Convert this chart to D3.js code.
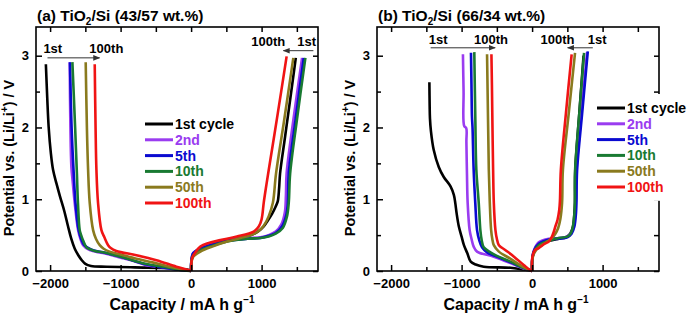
<!DOCTYPE html>
<html>
<head>
<meta charset="utf-8">
<script src="https://cdn.jsdelivr.net/npm/d3@7"></script>
<style>
  body { margin: 0; background: #fff; }
  text { font-family: "Liberation Sans", Arial, sans-serif; font-weight: bold; }
</style>
</head>
<body>
<div id="chart"></div>
<script>
// cycle names + colours
var cycles = ["1st cycle", "2nd", "5th", "10th", "50th", "100th"];
var colors = ["#000000", "#9a3cf0", "#0a0ad0", "#197a32", "#8a7a1e", "#f01414"];

// axis ticks
var xMajor = [-2000, -1000, 0, 1000];
var xMinor = [-1500, -500, 500, 1500];
var yMajor = [0, 1, 2, 3];
var yMinor = [0.5, 1.5, 2.5];

// (a) TiO2/Si 43/57 : discharge [capacity, V]
var a_dis_1 = [[0,0],[-60,0.02],[-300,0.04],[-800,0.05],[-1200,0.06],[-1420,0.07],[-1500,0.1],[-1550,0.15],[-1600,0.22],[-1650,0.31],[-1700,0.45],[-1745,0.62],[-1800,0.84],[-1860,1.04],[-1910,1.22],[-1958,1.41],[-1990,1.65],[-2020,2.0],[-2040,2.4],[-2060,2.88]];
var a_dis_2 = [[0,0],[-113,0.01],[-400,0.05],[-634,0.08],[-850,0.15],[-1013,0.19],[-1250,0.25],[-1438,0.29],[-1532,0.36],[-1570,0.45],[-1603,0.57],[-1651,0.95],[-1680,1.25],[-1698,1.45],[-1712,2.0],[-1722,2.91]];
var a_dis_5 = [[0,0],[-110,0.01],[-400,0.05],[-630,0.09],[-1000,0.2],[-1250,0.26],[-1420,0.3],[-1515,0.36],[-1560,0.45],[-1595,0.57],[-1640,0.95],[-1665,1.36],[-1695,2.0],[-1718,2.91]];
var a_dis_10 = [[0,0],[-110,0.01],[-400,0.06],[-650,0.1],[-1000,0.2],[-1250,0.26],[-1367,0.28],[-1450,0.31],[-1485,0.33],[-1530,0.42],[-1560,0.5],[-1580,0.57],[-1605,0.95],[-1620,1.36],[-1645,2.0],[-1684,2.91]];
var a_dis_50 = [[0,0],[-100,0.02],[-308,0.06],[-550,0.12],[-776,0.17],[-1000,0.23],[-1155,0.27],[-1240,0.31],[-1296,0.36],[-1350,0.45],[-1390,0.57],[-1438,0.95],[-1461,1.41],[-1478,2.0],[-1495,2.91]];
var a_dis_100 = [[0,0],[-24,0.01],[-209,0.06],[-492,0.15],[-776,0.22],[-1060,0.28],[-1140,0.32],[-1177,0.36],[-1230,0.47],[-1272,0.57],[-1320,0.95],[-1343,1.41],[-1355,2.0],[-1367,2.88]];
// (a) charge
var a_ch_1 = [[0,0],[5,0.12],[20,0.2],[100,0.28],[250,0.36],[450,0.42],[700,0.46],[850,0.5],[950,0.55],[1030,0.62],[1086,0.7],[1150,0.8],[1200,0.9],[1229,0.97],[1248,1.15],[1262,1.36],[1330,1.85],[1400,2.35],[1485,2.97]];
var a_ch_2 = [[0,0],[5,0.15],[30,0.25],[132,0.32],[300,0.38],[510,0.43],[800,0.46],[983,0.47],[1100,0.5],[1200,0.55],[1280,0.65],[1330,0.82],[1345,1.05],[1355,1.36],[1450,2.1],[1574,2.97]];
var a_ch_5 = [[0,0],[5,0.15],[30,0.25],[132,0.31],[300,0.37],[510,0.42],[800,0.45],[983,0.46],[1100,0.49],[1200,0.53],[1290,0.62],[1350,0.78],[1372,0.95],[1385,1.36],[1480,2.1],[1598,2.97]];
var a_ch_10 = [[0,0],[5,0.14],[30,0.22],[132,0.29],[300,0.35],[510,0.41],[800,0.45],[983,0.46],[1100,0.48],[1200,0.52],[1300,0.6],[1360,0.76],[1385,0.95],[1405,1.36],[1500,2.1],[1621,2.97]];
var a_ch_50 = [[0,0],[5,0.12],[30,0.2],[132,0.27],[300,0.34],[510,0.41],[700,0.46],[850,0.5],[950,0.55],[1030,0.63],[1100,0.76],[1160,0.95],[1205,1.36],[1320,2.1],[1450,2.97]];
var a_ch_100 = [[0,0],[14,0.18],[60,0.26],[131,0.34],[250,0.39],[415,0.43],[650,0.48],[888,0.55],[960,0.62],[1000,0.72],[1030,0.95],[1060,1.15],[1100,1.4],[1230,2.2],[1355,2.99]];

// (b) TiO2/Si 66/34 : discharge
var b_dis_1 = [[0,0],[-24,0.01],[-114,0.02],[-306,0.045],[-686,0.06],[-800,0.09],[-871,0.13],[-920,0.25],[-967,0.36],[-1000,0.48],[-1039,0.62],[-1070,0.8],[-1090,0.95],[-1110,1.06],[-1157,1.18],[-1253,1.31],[-1324,1.45],[-1396,1.69],[-1435,1.95],[-1449,2.13],[-1453,2.3],[-1457,2.63]];
var b_dis_2 = [[0,0],[-114,0.03],[-306,0.11],[-543,0.2],[-781,0.27],[-829,0.34],[-860,0.45],[-886,0.57],[-914,0.95],[-924,1.36],[-932,1.8],[-934,1.99],[-963,2.02],[-972,2.5],[-981,3.02]];
var b_dis_5 = [[0,0],[-114,0.04],[-306,0.12],[-500,0.2],[-639,0.26],[-710,0.33],[-750,0.43],[-781,0.57],[-806,0.95],[-829,1.41],[-845,2.0],[-853,2.15],[-860,2.6],[-867,3.04]];
var b_dis_10 = [[0,0],[-114,0.04],[-306,0.13],[-500,0.21],[-591,0.26],[-686,0.33],[-715,0.43],[-734,0.57],[-757,0.95],[-791,1.41],[-805,2.1],[-820,3.05]];
var b_dis_50 = [[0,0],[-114,0.05],[-306,0.17],[-471,0.27],[-543,0.36],[-565,0.45],[-581,0.57],[-600,0.95],[-614,1.41],[-625,2.1],[-639,3.02]];
var b_dis_100 = [[0,0],[-24,0.01],[-114,0.08],[-257,0.2],[-377,0.29],[-471,0.36],[-500,0.45],[-520,0.57],[-543,0.95],[-553,1.41],[-562,2.0],[-570,2.6],[-577,3.02]];
// (b) charge
var b_ch_1 = [[0,0],[5,0.18],[40,0.3],[120,0.38],[240,0.42],[380,0.45],[480,0.47],[540,0.52],[580,0.62],[600,0.8],[608,0.95],[612,1.4],[670,2.2],[730,3.0]];
var b_ch_2 = [[0,0],[5,0.2],[30,0.3],[94,0.4],[237,0.45],[380,0.46],[490,0.48],[560,0.54],[595,0.64],[615,0.85],[622,1.0],[630,1.4],[700,2.2],[780,3.05]];
var b_ch_5 = [[0,0],[5,0.19],[30,0.29],[94,0.38],[237,0.44],[380,0.45],[500,0.47],[560,0.52],[600,0.62],[622,0.8],[629,0.95],[638,1.4],[710,2.2],[790,3.06]];
var b_ch_10 = [[0,0],[5,0.18],[30,0.27],[94,0.36],[237,0.42],[380,0.46],[500,0.48],[545,0.52],[575,0.6],[600,0.8],[607,0.95],[610,1.4],[670,2.2],[737,3.04]];
var b_ch_50 = [[0,0],[5,0.17],[30,0.25],[94,0.33],[200,0.4],[280,0.46],[330,0.52],[370,0.6],[400,0.72],[425,0.95],[437,1.41],[520,2.2],[609,3.04]];
var b_ch_100 = [[0,0],[3,0.19],[40,0.29],[94,0.32],[180,0.38],[237,0.41],[290,0.5],[330,0.62],[360,0.71],[385,0.85],[395,0.98],[408,1.41],[480,2.2],[561,3.02]];

// annotations: label positions and arrow ends, data units
var a_annLeft = { from: '1st', to: '100th', t1: [-2095, 3.04], t2: [-1443, 3.04], arrow: [[-2037, 2.97], [-1299, 2.97]] };
var a_annRight = { from: '1st', to: '100th', t1: [1506, 3.13], t2: [853, 3.13], arrow: [[1735, 3.07], [1309, 3.07]] };
var b_annLeft = { from: '1st', to: '100th', t1: [-1467, 3.17], t2: [-824, 3.17], arrow: [[-1439, 3.11], [-524, 3.11]] };
var b_annRight = { from: '1st', to: '100th', t1: [790, 3.17], t2: [119, 3.17], arrow: [[861, 3.11], [504, 3.11]] };

var W = 688, H = 314;
var svg = d3.select('#chart').append('svg')
    .attr('width', W)
    .attr('height', H);

svg.append('rect').attr('width', W).attr('height', H).attr('fill', '#fff');

var defs = svg.append('defs');
defs.append('marker')
    .attr('id', 'arr')
    .attr('viewBox', '0 0 10 10')
    .attr('refX', 9).attr('refY', 5)
    .attr('markerWidth', 7).attr('markerHeight', 7)
    .attr('orient', 'auto')
    .append('path')
    .attr('d', 'M0,1 L10,5 L0,9 Z')
    .attr('fill', '#333');

drawPanel({
    left: 36, right: 318, top: 27, bottom: 271,
    title: ['(a) TiO', '2', '/Si (43/57 wt.%)'],
    dis: [a_dis_1, a_dis_2, a_dis_5, a_dis_10, a_dis_50, a_dis_100],
    ch: [a_ch_1, a_ch_2, a_ch_5, a_ch_10, a_ch_50, a_ch_100],
    ann: [a_annLeft, a_annRight],
    legX: 145, legY: 124, legBox: false,
    ylabX: 8.5, xlabX: 182
});

drawPanel({
    left: 377, right: 659, top: 27, bottom: 271,
    title: ['(b) TiO', '2', '/Si (66/34 wt.%)'],
    dis: [b_dis_1, b_dis_2, b_dis_5, b_dis_10, b_dis_50, b_dis_100],
    ch: [b_ch_1, b_ch_2, b_ch_5, b_ch_10, b_ch_50, b_ch_100],
    ann: [b_annLeft, b_annRight],
    legX: 597, legY: 108, legBox: true,
    ylabX: 350, xlabX: 516
});

function drawPanel(p) {
    var x = d3.scaleLinear().domain([-2200, 1800]).range([p.left, p.right]);
    var y = d3.scaleLinear().domain([0, 3.4]).range([p.bottom, p.top]);
    var g = svg.append('g');

    var line = d3.line()
        .x(function (d) { return x(d[0]); })
        .y(function (d) { return y(d[1]); })
        .curve(d3.curveCatmullRom.alpha(0.5));

    // curves, 1st first so 100th sits on top
    cycles.forEach(function (c, i) {
        [p.dis[i], p.ch[i]].forEach(function (arr) {
            g.append('path')
                .datum(arr)
                .attr('d', line)
                .attr('fill', 'none')
                .attr('stroke', colors[i])
                .attr('stroke-width', 2.6)
                .attr('stroke-linejoin', 'round');
        });
    });

    // axes, ticks pointing in
    function styleAxis(sel) {
        sel.selectAll('.domain').remove();
        sel.selectAll('line').attr('stroke', '#000').attr('stroke-width', 1.5);
        sel.selectAll('text').style('font-size', '13px').attr('fill', '#000');
    }
    g.append('g').attr('transform', 'translate(0,' + p.bottom + ')')
        .call(d3.axisBottom(x).tickValues(xMajor).tickSizeInner(-6).tickSizeOuter(0).tickPadding(8).tickFormat(d3.format('d')))
        .call(styleAxis);
    g.append('g').attr('transform', 'translate(0,' + p.bottom + ')')
        .call(d3.axisBottom(x).tickValues(xMinor).tickSizeInner(-4).tickSizeOuter(0).tickFormat(''))
        .call(styleAxis);
    g.append('g').attr('transform', 'translate(0,' + p.top + ')')
        .call(d3.axisTop(x).tickValues(xMajor.concat(xMinor)).tickSizeInner(-5).tickSizeOuter(0).tickFormat(''))
        .call(styleAxis);
    g.append('g').attr('transform', 'translate(' + p.left + ',0)')
        .call(d3.axisLeft(y).tickValues(yMajor).tickSizeInner(-6).tickSizeOuter(0).tickPadding(7).tickFormat(d3.format('d')))
        .call(styleAxis);
    g.append('g').attr('transform', 'translate(' + p.left + ',0)')
        .call(d3.axisLeft(y).tickValues(yMinor).tickSizeInner(-4).tickSizeOuter(0).tickFormat(''))
        .call(styleAxis);
    g.append('g').attr('transform', 'translate(' + p.right + ',0)')
        .call(d3.axisRight(y).tickValues(yMajor.concat(yMinor)).tickSizeInner(-5).tickSizeOuter(0).tickFormat(''))
        .call(styleAxis);

    // frame
    g.append('rect')
        .attr('x', p.left).attr('y', p.top)
        .attr('width', p.right - p.left).attr('height', p.bottom - p.top)
        .attr('fill', 'none').attr('stroke', '#000').attr('stroke-width', 1.6);

    // title
    var t = g.append('text').attr('x', p.left + 1).attr('y', 21).style('font-size', '15.5px');
    t.append('tspan').text(p.title[0]);
    t.append('tspan').text(p.title[1]).attr('dy', 4).style('font-size', '10px');
    t.append('tspan').text(p.title[2]).attr('dy', -4);

    // axis labels
    var xl = g.append('text')
        .attr('x', p.xlabX).attr('y', 310)
        .attr('text-anchor', 'middle').style('font-size', '16px');
    xl.append('tspan').text('Capacity / mA h g');
    xl.append('tspan').text('\u22121').attr('dy', -7).style('font-size', '10px');

    var yl = g.append('text')
        .attr('transform', 'translate(' + p.ylabX + ',158) rotate(-90)')
        .attr('dy', '0.35em')
        .attr('text-anchor', 'middle').style('font-size', '14.5px');
    yl.append('tspan').text('Potential vs. (Li/Li');
    yl.append('tspan').text('+').attr('dy', -6).style('font-size', '10px');
    yl.append('tspan').text(') / V').attr('dy', 6);

    // annotations
    p.ann.forEach(function (a) {
        g.append('text').attr('x', x(a.t1[0])).attr('y', y(a.t1[1])).style('font-size', '13px').text(a.from);
        g.append('text').attr('x', x(a.t2[0])).attr('y', y(a.t2[1])).style('font-size', '13px').text(a.to);
        g.append('line')
            .attr('x1', x(a.arrow[0][0])).attr('y1', y(a.arrow[0][1]))
            .attr('x2', x(a.arrow[1][0])).attr('y2', y(a.arrow[1][1]))
            .attr('stroke', '#333').attr('stroke-width', 1)
            .attr('marker-end', 'url(#arr)');
    });

    // legend
    if (p.legBox) {
        g.append('rect')
            .attr('x', p.legX - 2).attr('y', p.legY - 14)
            .attr('width', W - p.legX + 2).attr('height', 6 * 15.8 + 12)
            .attr('fill', '#fff');
    }
    cycles.forEach(function (c, i) {
        var yy = p.legY + i * 15.8;
        g.append('line')
            .attr('x1', p.legX).attr('x2', p.legX + 28)
            .attr('y1', yy).attr('y2', yy)
            .attr('stroke', colors[i]).attr('stroke-width', 3);
        g.append('text')
            .attr('x', p.legX + 30).attr('y', yy)
            .attr('dy', '0.35em')
            .style('font-size', '14px')
            .attr('fill', colors[i])
            .text(c);
    });
}
</script>
</body>
</html>
